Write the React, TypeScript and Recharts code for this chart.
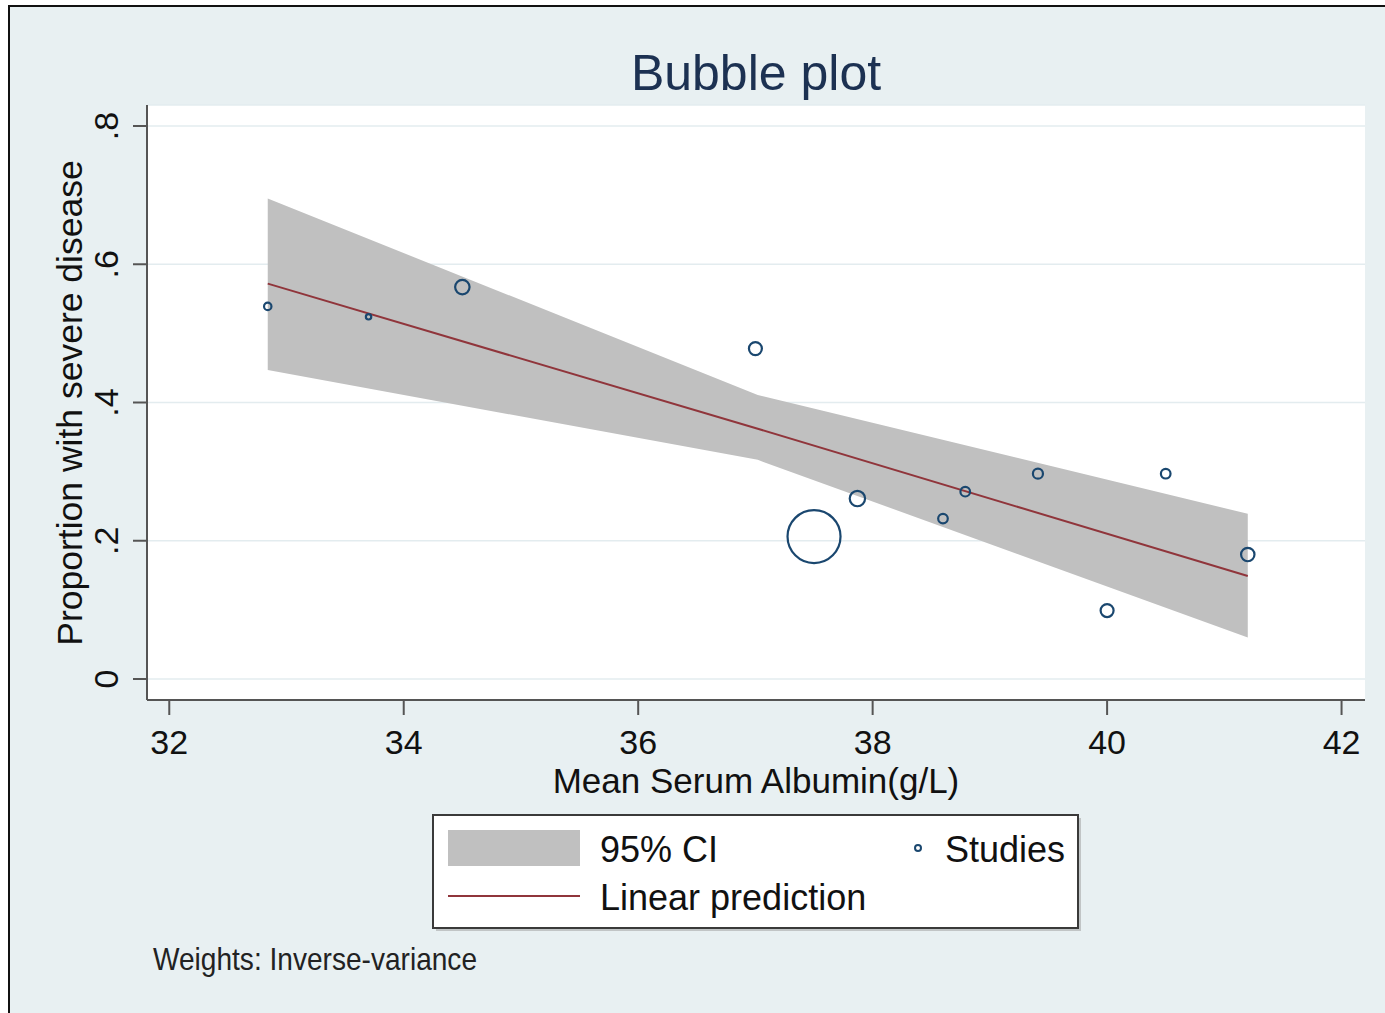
import React from 'react';
import {
  ComposedChart, Area, Line, Scatter, XAxis, YAxis, ZAxis, CartesianGrid,
} from 'recharts';

// studies (mean serum albumin, proportion with severe disease, inverse-variance weight)
const studyAlbumin = [32.84, 33.70, 34.50, 37.00, 37.50, 37.87, 38.60, 38.79, 39.41, 40.00, 40.50, 41.20];
const studyProportion = [0.539, 0.524, 0.567, 0.478, 0.206, 0.261, 0.232, 0.271, 0.297, 0.099, 0.297, 0.180];
const studyWeight = [1.95, 1.04, 7.4, 6.0, 100, 8.4, 3.3, 3.3, 3.6, 6.0, 3.3, 6.4];

// linear prediction and 95% CI, evaluated at three points
const fitAlbumin = [32.84, 37.02, 41.20];
const fitPrediction = [0.572, 0.362, 0.149];
const ciLower = [0.447, 0.317, 0.060];
const ciUpper = [0.695, 0.411, 0.239];

const xTicks = [32, 34, 36, 38, 40, 42];
const yTicks = [0, 0.2, 0.4, 0.6, 0.8];

const BG = '#e8f0f2';
const AXIS = '#555555';
const NAVY = '#1a476f';
const MAROON = '#90353b';
const CI_GRAY = '#c0c0c0';
const FONT = '"Liberation Sans", Arial, sans-serif';

const studies = studyAlbumin.map((x, i) => ({ x, y: studyProportion[i], w: studyWeight[i] }));
const fitData = fitAlbumin.map((x, i) => ({ x, pred: fitPrediction[i] }));
const bandData = fitAlbumin.map((x, i) => ({ x, ci: [ciLower[i], ciUpper[i]] }));

const fmtY = (v: number) => (v === 0 ? '0' : String(v).replace(/^0\./, '.'));

function XTick(p: any) {
  return (
    <text x={p.x} y={p.y + 39} textAnchor="middle" fontSize={34} fontFamily={FONT} fill="#111">
      {p.payload.value}
    </text>
  );
}

function YTick(p: any) {
  const x = p.x - 15;
  return (
    <text x={x} y={p.y} transform={`rotate(-90 ${x} ${p.y})`} textAnchor="middle" fontSize={34} fontFamily={FONT} fill="#111">
      {fmtY(p.payload.value)}
    </text>
  );
}

export default function App() {
  return (
    <div style={{ position: 'absolute', left: 0, top: 0, width: 1385, height: 1013, overflow: 'hidden', background: '#fff', fontFamily: FONT }}>
      <div style={{ position: 'absolute', left: 8, top: 5, width: 1420, height: 1040, borderLeft: '2px solid #111', borderTop: '2px solid #111', background: BG }} />
      <div style={{ position: 'absolute', left: 0, top: 0 }}>
        <ComposedChart width={1385} height={1013} margin={{ top: 105, right: 20, bottom: 253, left: 87 }}>
          <CartesianGrid vertical={false} stroke="#e3ecef" strokeWidth={1.5} fill="#ffffff" fillOpacity={1} />
          <XAxis
            dataKey="x" type="number" domain={[31.81, 42.2]} allowDataOverflow ticks={xTicks}
            height={60} tickSize={15} tickMargin={0} interval={0}
            axisLine={{ stroke: AXIS, strokeWidth: 2 }} tickLine={{ stroke: AXIS, strokeWidth: 2 }}
            tick={<XTick />}
          />
          <YAxis
            type="number" domain={[-0.0304, 0.8304]} allowDataOverflow ticks={yTicks}
            width={60} tickSize={14} tickMargin={0} interval={0}
            axisLine={{ stroke: AXIS, strokeWidth: 2 }} tickLine={{ stroke: AXIS, strokeWidth: 2 }}
            tick={<YTick />}
          />
          <ZAxis dataKey="w" type="number" domain={[0, 100]} range={[0, Math.PI * 26.5 * 26.5]} />
          <Area data={bandData} dataKey="ci" type="linear" fill={CI_GRAY} fillOpacity={1} stroke="none" isAnimationActive={false} />
          <Line data={fitData} dataKey="pred" type="linear" stroke={MAROON} strokeWidth={2} dot={false} activeDot={false} isAnimationActive={false} />
          <Scatter data={studies} dataKey="y" shape="circle" fill="none" stroke={NAVY} strokeWidth={2.2} isAnimationActive={false} />
        </ComposedChart>
      </div>

      <svg width={1385} height={1013} style={{ position: 'absolute', left: 0, top: 0, pointerEvents: 'none' }}>
        <text x={756} y={90} textAnchor="middle" fontSize={50} fill="#1c3152" fontFamily={FONT}>Bubble plot</text>
        <text x={756} y={793} textAnchor="middle" fontSize={35} fill="#111" fontFamily={FONT}>Mean Serum Albumin(g/L)</text>
        <text x={82} y={403} transform="rotate(-90 82 403)" textAnchor="middle" fontSize={35.5} fill="#111" fontFamily={FONT}>
          Proportion with severe disease
        </text>

        <rect x={436} y={818} width={645} height={113} fill="#9a9a9a" opacity={0.5} />
        <rect x={433} y={815} width={645} height={113} fill="#ffffff" stroke="#3a3a3a" strokeWidth={2} />
        <rect x={448} y={830} width={132} height={36} fill={CI_GRAY} />
        <text x={600} y={862} fontSize={36} fill="#111" fontFamily={FONT}>95% CI</text>
        <circle cx={918} cy={848} r={3} fill="none" stroke={NAVY} strokeWidth={2} />
        <text x={945} y={862} fontSize={36} fill="#111" fontFamily={FONT}>Studies</text>
        <line x1={448} x2={580} y1={896} y2={896} stroke={MAROON} strokeWidth={2} />
        <text x={600} y={910} fontSize={36} fill="#111" fontFamily={FONT}>Linear prediction</text>

        <text x={153} y={970} fontSize={32} fill="#222" fontFamily={FONT} textLength={324} lengthAdjust="spacingAndGlyphs">
          Weights: Inverse-variance
        </text>
      </svg>
    </div>
  );
}
